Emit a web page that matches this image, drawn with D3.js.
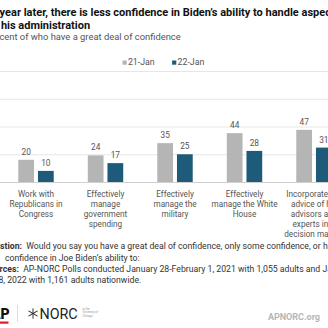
<!DOCTYPE html>
<html>
<head>
<meta charset="utf-8">
<script src="https://cdn.jsdelivr.net/npm/d3@7"></script>
<style>
  html, body { margin: 0; padding: 0; background: #fff; overflow: hidden; }
  svg { display: block; font-family: Roboto, "Noto Sans", sans-serif; }
</style>
</head>
<body>
<script>
// chart values
const categories = [
  ["Work with", "Republicans in", "Congress"],
  ["Effectively", "manage", "government", "spending"],
  ["Effectively", "manage the", "military"],
  ["Effectively", "manage the White", "House"],
  ["Incorporate the", "advice of his", "advisors and", "experts into", "decision making"]
];
const seriesNames = ["21-Jan", "22-Jan"];
const jan21 = [20, 24, 35, 44, 47];
const jan22 = [10, 17, 25, 28, 31];
const yTicks = [0, 25, 50, 75, 100];

const colors = ["#b5b5b5", "#1e5b7a"];

const W = 328, H = 328;
const left = -15;
const baseY = 182, topY = 71;

const svg = d3.select("body").append("svg")
  .attr("width", W)
  .attr("height", H);

// title + subtitle
const title = svg.append("text")
  .attr("font-size", 11)
  .attr("font-weight", "bold")
  .attr("fill", "#111");
title.append("tspan").attr("x", -10.5).attr("y", 15.5)
  .text("A year later, there is less confidence in Biden’s ability to handle aspects");
title.append("tspan").attr("x", -12).attr("y", 28.5)
  .text("of his administration");

svg.append("text")
  .attr("x", -14.5)
  .attr("y", 39.5)
  .attr("font-size", 9.4)
  .attr("fill", "#555")
  .text("Percent of who have a great deal of confidence");

// legend
const legend = svg.append("g").attr("transform", "translate(122.5,58.5)");
let lx = 0;
seriesNames.forEach((s, i) => {
  legend.append("rect").attr("x", lx).attr("y", 2).attr("width", 4.2).attr("height", 4.2).attr("fill", colors[i]);
  legend.append("text").attr("x", lx + 5.4).attr("y", 6.6)
    .attr("font-size", 8.8).attr("fill", "#555").text(s);
  lx += 49.6;
});

// scales
const x0 = d3.scaleBand()
  .domain(d3.range(categories.length))
  .range([1.25, 1.25 + 69.5 * categories.length])
  .paddingInner(0.49)
  .paddingOuter(0.245);

const x1 = d3.scaleBand()
  .domain(seriesNames)
  .range([0, x0.bandwidth()])
  .paddingInner(0.2);

const y = d3.scaleLinear().domain([0, 100]).range([baseY, topY]);

// grid
const yAxis = d3.axisLeft(y).tickValues(yTicks).tickSize(-(W - left + 20)).tickFormat("");
const gy = svg.append("g").attr("transform", `translate(${left},0)`).call(yAxis);
gy.select(".domain").remove();
gy.selectAll(".tick line").attr("stroke", d => d === 0 ? "#cfcfcf" : "#e6e6e6");

// bars
const rows = categories.map((c, i) => ({ i, vals: [jan21[i], jan22[i]] }));
const groups = svg.selectAll("g.grp").data(rows).enter().append("g")
  .attr("class", "grp")
  .attr("transform", d => `translate(${x0(d.i)},0)`);

groups.selectAll("rect").data(d => d.vals.map((v, k) => ({ k, v }))).enter().append("rect")
  .attr("x", d => x1(seriesNames[d.k]))
  .attr("y", d => y(d.v))
  .attr("width", x1.bandwidth())
  .attr("height", d => y(0) - y(d.v))
  .attr("fill", d => colors[d.k]);

groups.selectAll("text.val").data(d => d.vals.map((v, k) => ({ k, v }))).enter().append("text")
  .attr("class", "val")
  .attr("x", d => x1(seriesNames[d.k]) + x1.bandwidth() / 2)
  .attr("y", d => y(d.v) - 5)
  .attr("text-anchor", "middle")
  .attr("font-size", 8.3)
  .attr("fill", "#555")
  .text(d => d.v);

// category labels
groups.append("text")
  .attr("text-anchor", "middle")
  .attr("font-size", 8.2)
  .attr("fill", "#555")
  .selectAll("tspan").data(d => categories[d.i]).enter().append("tspan")
  .attr("x", x0.bandwidth() / 2)
  .attr("y", (d, j) => 196.5 + j * 10)
  .text(d => d);

// notes
const notes = [
  { x: -15.5, y: 249, b: "Question:", t: "  Would you say you have a great deal of confidence, only some confidence, or hardly any" },
  { x: 5, y: 260.5, b: "", t: "confidence in Joe Biden’s ability to:" },
  { x: -15.5, y: 271.5, b: "Sources:", t: "  AP-NORC Polls conducted January 28-February 1, 2021 with 1,055 adults and January 13-" },
  { x: -6.5, y: 282.5, b: "", t: "18, 2022 with 1,161 adults nationwide." }
];
notes.forEach(n => {
  const t = svg.append("text").attr("x", n.x).attr("y", n.y)
    .attr("font-size", 8.7).attr("fill", "#333").attr("xml:space", "preserve");
  if (n.b) t.append("tspan").attr("font-weight", "bold").text(n.b);
  t.append("tspan").text(n.t);
});

// logos
svg.append("text").attr("x", -9).attr("y", 318.5)
  .attr("font-size", 14).attr("font-weight", "900").attr("fill", "#111").text("AP");
svg.append("rect").attr("x", -9).attr("y", 321.5).attr("width", 17.5).attr("height", 2.2).attr("fill", "#e31b23");
svg.append("line").attr("x1", 17.5).attr("x2", 17.5).attr("y1", 305).attr("y2", 322)
  .attr("stroke", "#ddd").attr("stroke-width", 1);
const star = svg.append("g").attr("transform", "translate(33,313.5)");
[0, 60, 120].forEach(a => {
  star.append("line")
    .attr("x1", -5.2).attr("x2", 5.2).attr("y1", 0).attr("y2", 0)
    .attr("transform", `rotate(${a + 90})`)
    .attr("stroke", "#222").attr("stroke-width", 0.9);
});
svg.append("text").attr("x", 39.5).attr("y", 318.5)
  .attr("font-size", 14.3).attr("fill", "#222").text("NORC");
const tiny = svg.append("g").attr("fill", "#999").attr("font-size", 2.8);
["at the", "University of", "Chicago"].forEach((s, i) => {
  tiny.append("text").attr("x", 82.5).attr("y", 310 + i * 3.3).text(s);
});
svg.append("text").attr("x", 320).attr("y", 320)
  .attr("text-anchor", "end")
  .attr("font-size", 9).attr("font-weight", "bold").attr("fill", "#b5b5b5")
  .text("APNORC.org");
</script>
</body>
</html>
